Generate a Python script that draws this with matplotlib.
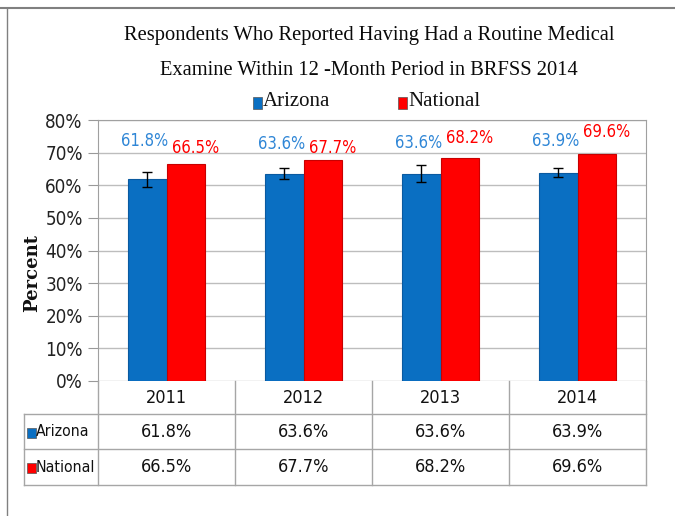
import matplotlib
matplotlib.use("Agg")
import matplotlib.pyplot as plt
from matplotlib.lines import Line2D
from matplotlib.patches import Rectangle
import numpy as np

years = ["2011", "2012", "2013", "2014"]
arizona = [61.8, 63.6, 63.6, 63.9]
national = [66.5, 67.7, 68.2, 69.6]
az_err = [2.4, 1.8, 2.5, 1.3]
series_names = ["Arizona", "National"]
yticks = [0, 10, 20, 30, 40, 50, 60, 70, 80]

# placement of the value labels (layout only)
az_label_y = [73.6, 72.5, 73.0, 73.6]
nat_label_y = [71.4, 71.5, 74.5, 76.4]

title = "Respondents Who Reported Having Had a Routine Medical\nExamine Within 12 -Month Period in BRFSS 2014"

BLUE = "#0a6fc2"
RED = "#ff0000"
LBLUE = "#2f86d6"
SANS = dict(family="DejaVu Sans", stretch="condensed")
SERIF = ["Liberation Serif", "DejaVu Serif"]

W, H = 675, 516
fig = plt.figure(figsize=(6.75, 5.16), dpi=100)
L, R, T, B = 98, 646, 120, 381
ax = fig.add_axes([L / W, 1 - B / H, (R - L) / W, (B - T) / H])

x = np.arange(len(years))
bw = 0.28
ax.bar(x - bw / 2, arizona, bw, color=BLUE, edgecolor="#0a5aa0", linewidth=0.8, zorder=3)
ax.bar(x + bw / 2, national, bw, color=RED, edgecolor="#c80000", linewidth=0.8, zorder=3)
ax.errorbar(x - bw / 2, arizona, yerr=az_err, fmt="none", ecolor="black",
            elinewidth=1.0, capsize=3.5, capthick=1.0, zorder=4)

ax.set_xlim(-0.5, len(years) - 0.5)
ax.set_ylim(0, 80)
ax.set_yticks(yticks)
ax.set_yticklabels([f"{v}%" for v in yticks], fontsize=13.5, color="#222222", **SANS)
ax.set_xticks([])
ax.yaxis.grid(True, color="#bdbdbd", linewidth=1.0, zorder=0)
ax.tick_params(axis="y", length=7, color="#999999", pad=4)
ax.spines["bottom"].set_visible(False)
for s in ["top", "right", "left"]:
    ax.spines[s].set_color("#a0a0a0")

# data labels
for i in range(len(years)):
    ax.text(x[i] - bw / 2 - 0.02, az_label_y[i], f"{arizona[i]}%", color=LBLUE, fontsize=12,
            ha="center", va="center", **SANS)
    ax.text(x[i] + bw / 2 + 0.07, nat_label_y[i], f"{national[i]}%", color=RED, fontsize=12,
            ha="center", va="center", **SANS)

# Title
fig.text(369 / W, 1 - 53 / H, title, ha="center", va="center", fontsize=14.8,
         family=SERIF, linespacing=2.2, color="#0a0a0a")

# Legend
def key(xp, yp, c, size=9):
    fig.add_artist(Rectangle((xp / W, 1 - (yp + size / 2) / H), size * 0.85 / W, size / H,
                             transform=fig.transFigure, facecolor=c, edgecolor="#555555",
                             linewidth=0.5))

key(253, 103, BLUE, size=11)
fig.text(263 / W, 1 - 102 / H, series_names[0], fontsize=15, family=SERIF,
         va="center", ha="left", color="#111111")
key(398, 103, RED, size=11)
fig.text(408 / W, 1 - 102 / H, series_names[1], fontsize=15, family=SERIF,
         va="center", ha="left", color="#111111")

# Y label
fig.text(32 / W, 1 - 273 / H, "Percent", rotation=90, fontsize=13,
         family=["DejaVu Serif"], fontweight="bold", ha="center", va="center", color="#111111")

# Data table
GC = "#a6a6a6"
def hline(y, x0, x1):
    fig.add_artist(Line2D([x0 / W, x1 / W], [1 - y / H, 1 - y / H], color=GC, linewidth=1.0))
def vline(xp, y0, y1):
    fig.add_artist(Line2D([xp / W, xp / W], [1 - y0 / H, 1 - y1 / H], color=GC, linewidth=1.0))

table_left = 24
row_lines = [414, 449, 485]
for yl in row_lines:
    hline(yl, table_left, R)
col_w = (R - L) / len(years)
for j in range(len(years) + 1):
    vline(L + j * col_w, B, row_lines[2])
vline(table_left, row_lines[0], row_lines[2])

hdr_y, row_y = 398, [432, 467]
for j in range(len(years)):
    cx = L + (j + 0.5) * col_w
    fig.text(cx / W, 1 - hdr_y / H, years[j], fontsize=13, ha="center", va="center",
             color="#111111", **SANS)
    fig.text(cx / W, 1 - row_y[0] / H, f"{arizona[j]}%", fontsize=13, ha="center",
             va="center", color="#111111", **SANS)
    fig.text(cx / W, 1 - row_y[1] / H, f"{national[j]}%", fontsize=13, ha="center",
             va="center", color="#111111", **SANS)

for k, (nm, c) in enumerate(zip(series_names, [BLUE, RED])):
    key(27, row_y[k] + 1, c, size=10)
    fig.text(36 / W, 1 - row_y[k] / H, nm, fontsize=11.3, ha="left", va="center",
             color="#111111", **SANS)

# outer frame lines
fig.add_artist(Line2D([0, 1], [1 - 8 / H, 1 - 8 / H], color="#808080", linewidth=1.5))
fig.add_artist(Line2D([7 / W, 7 / W], [0, 1 - 8 / H], color="#808080", linewidth=1.0))

fig.savefig("out.png", dpi=100)
